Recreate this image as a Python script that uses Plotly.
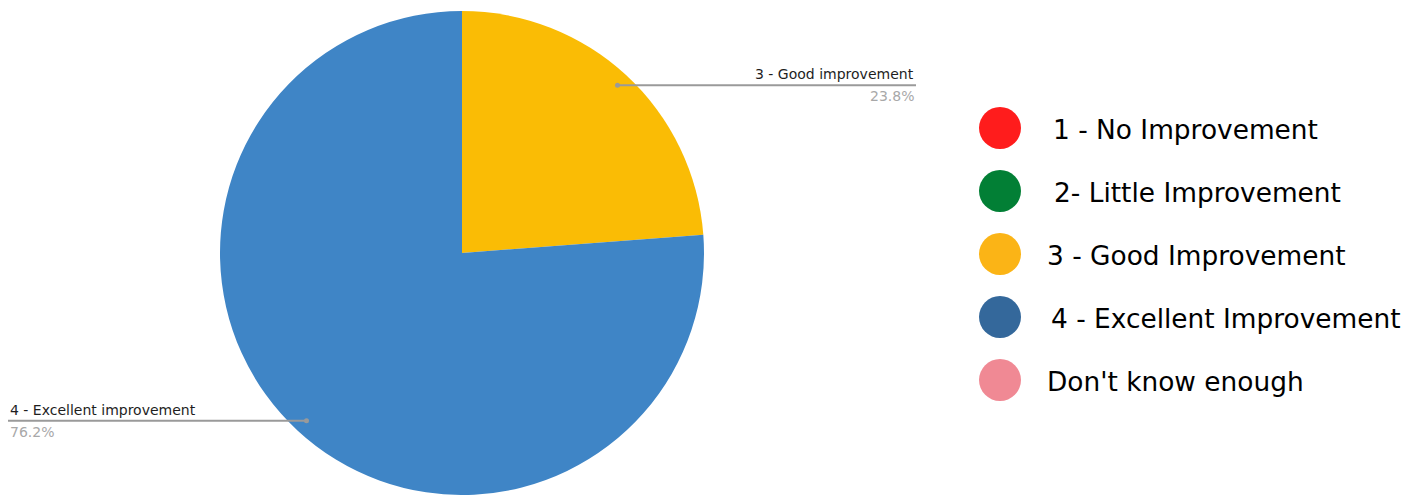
import math
import plotly.graph_objects as go

# ---- data ----
slice_labels = ["3 - Good improvement", "4 - Excellent improvement"]
slice_values = [23.8, 76.2]
slice_colors = ["#FABC05", "#3F85C6"]

legend_labels = ["1 - No Improvement", "2- Little Improvement", "3 - Good Improvement",
                 "4 - Excellent Improvement", "Don't know enough"]
legend_colors = ["#FF1C1C", "#027F35", "#FBB416", "#34689B", "#F08994"]
legend_index = [0, 1, 2, 3, 4]

# ---- layout constants (pixels) ----
W, H = 1420, 495
cx_px, cy_px, r_px = 462, 253, 242


def px(x):
    return x / W


def py(y):
    return 1 - y / H


fig = go.Figure()
fig.add_trace(go.Pie(
    labels=slice_labels, values=slice_values, sort=False, direction="clockwise",
    rotation=0, marker=dict(colors=slice_colors, line=dict(width=0)),
    textinfo="none", hoverinfo="label+percent", showlegend=False,
    domain=dict(x=[px(cx_px - r_px), px(cx_px + r_px)], y=[py(cy_px + r_px), py(cy_px - r_px)]),
))

# legend markers through an auxiliary axis
fig.add_trace(go.Scatter(
    x=[0] * len(legend_index), y=legend_index, mode="markers",
    marker=dict(size=42, color=legend_colors, line=dict(width=0)),
    xaxis="x2", yaxis="y2", showlegend=False, hoverinfo="skip",
))

shapes = []
annotations = []

# leader lines + labels computed from data
total = sum(slice_values)
cum = 0
label_cfg = [
    dict(end_x=916, side="right"),
    dict(end_x=8, side="left"),
]
for lab, val, cfg in zip(slice_labels, slice_values, label_cfg):
    mid = (cum + val / 2) / total * 2 * math.pi
    cum += val
    ax = cx_px + 0.945 * r_px * math.sin(mid)
    ay = cy_px - 0.945 * r_px * math.cos(mid)
    shapes.append(dict(type="line", xref="paper", yref="paper",
                       x0=px(ax), y0=py(ay), x1=px(cfg["end_x"]), y1=py(ay),
                       line=dict(color="#9a9a9a", width=2)))
    shapes.append(dict(type="circle", xref="paper", yref="paper",
                       x0=px(ax - 2.5), x1=px(ax + 2.5), y0=py(ay - 2.5), y1=py(ay + 2.5),
                       fillcolor="#9a9a9a", line=dict(width=0)))
    anchor = "right" if cfg["side"] == "right" else "left"
    annotations.append(dict(xref="paper", yref="paper", x=px(cfg["end_x"]), y=py(ay - 1),
                            text=lab, showarrow=False, xanchor=anchor, yanchor="bottom",
                            font=dict(family="DejaVu Sans", size=14, color="#1e1e1e")))
    annotations.append(dict(xref="paper", yref="paper", x=px(cfg["end_x"]), y=py(ay + 1),
                            text=f"{val / total * 100:.1f}%", showarrow=False, xanchor=anchor,
                            yanchor="top",
                            font=dict(family="DejaVu Sans", size=14, color="#a8a8a8")))

# legend texts
text_x = [1053, 1054, 1047, 1051, 1047]
for i, lab, tx in zip(legend_index, legend_labels, text_x):
    annotations.append(dict(xref="paper", yref="y2", x=px(tx - 2), y=i + 0.03, text=lab,
                            showarrow=False, xanchor="left", yanchor="middle",
                            font=dict(family="DejaVu Sans", size=26.4, color="#000000")))

spacing = 63
first = 128
fig.update_layout(
    width=W, height=H, margin=dict(l=0, r=0, t=0, b=0),
    paper_bgcolor="white", plot_bgcolor="white",
    xaxis=dict(visible=False), yaxis=dict(visible=False),
    xaxis2=dict(domain=[px(1000 - 30), px(1000 + 30)], range=[-1, 1], visible=False,
                fixedrange=True),
    yaxis2=dict(domain=[0, 1], range=[(H - first) / spacing, -first / spacing],
                visible=False, fixedrange=True, anchor="x2"),
    shapes=shapes, annotations=annotations,
)
fig.update_layout(xaxis2=dict(anchor="y2"))

fig.write_html("out.html")
